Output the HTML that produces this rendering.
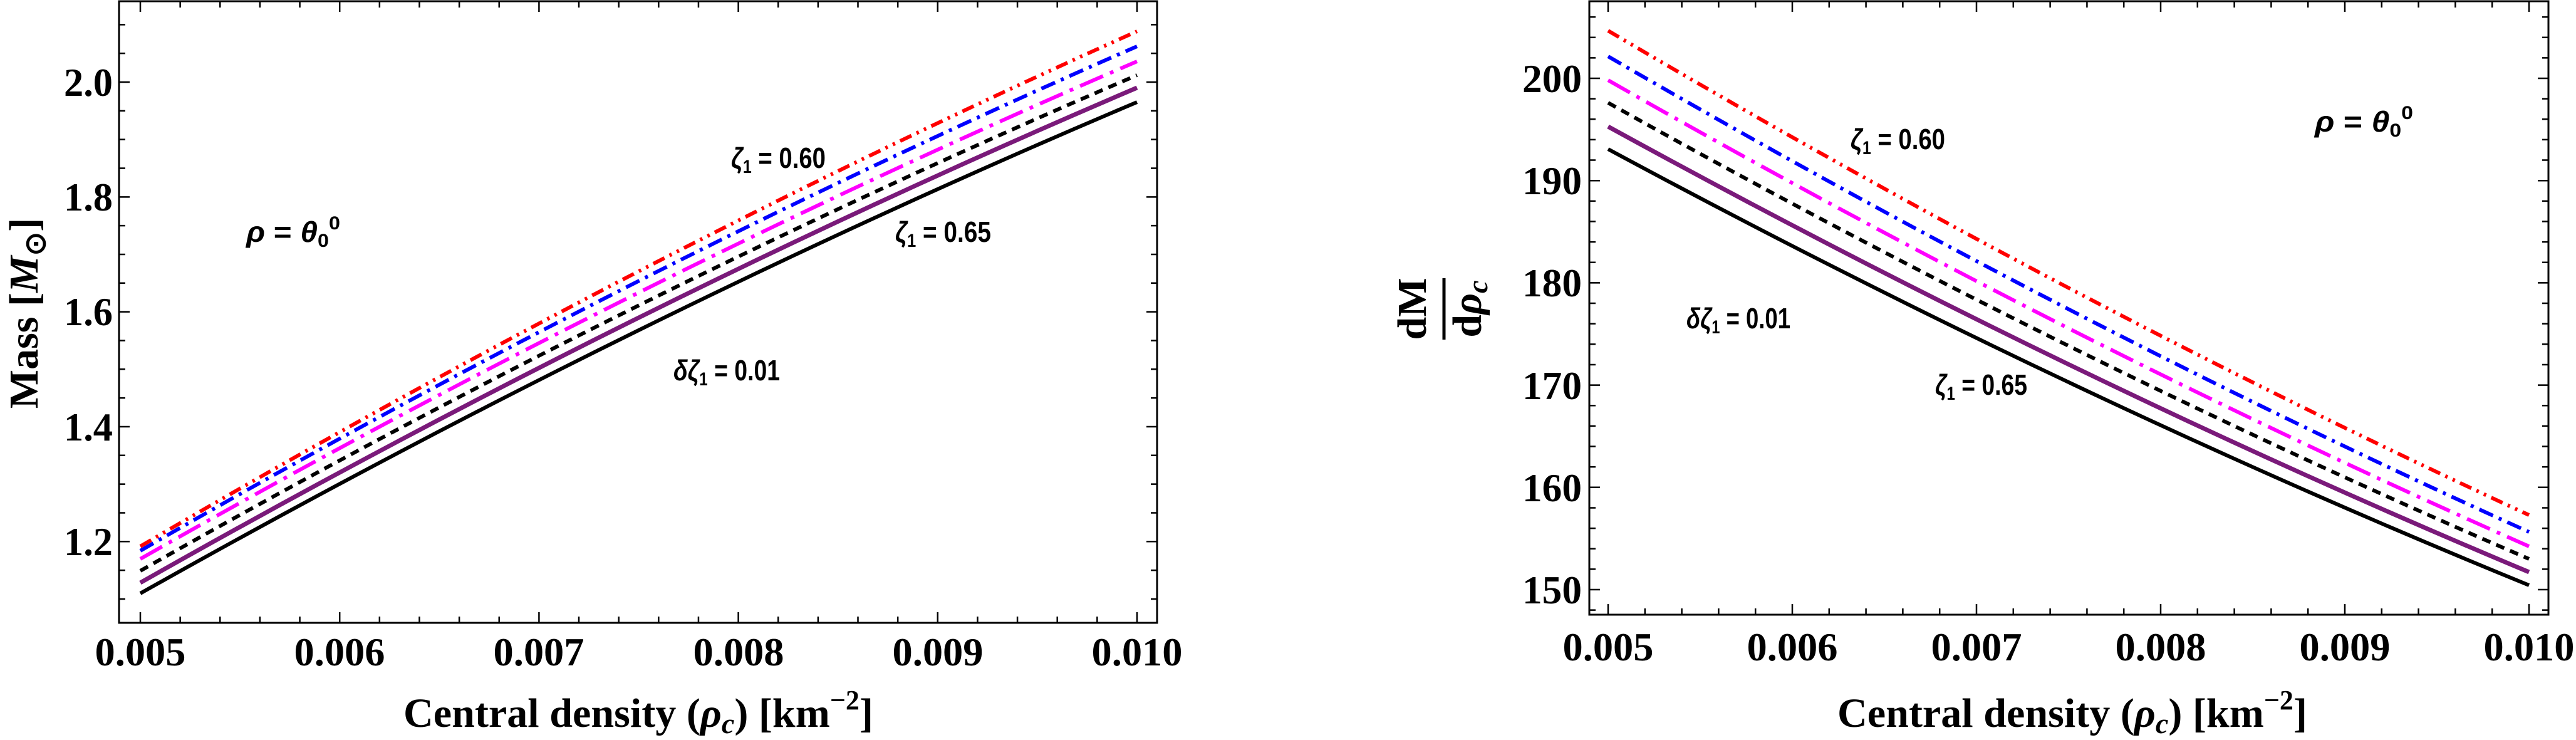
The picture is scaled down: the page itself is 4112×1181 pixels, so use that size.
<!DOCTYPE html>
<html><head><meta charset="utf-8"><style>
html,body{margin:0;padding:0;background:#fff}
svg{display:block}
.tk{font-family:"Liberation Serif",serif;font-weight:bold;font-size:64px}
.ax{font-family:"Liberation Serif",serif;font-weight:bold;font-size:66px}
.an{font-family:"Liberation Sans",sans-serif;font-weight:bold;font-size:46px}
.gi{font-style:italic}
</style></head><body>
<svg id="s" width="4112" height="1181" viewBox="0 0 4112 1181" xmlns="http://www.w3.org/2000/svg">
<rect width="4112" height="1181" fill="#fff"/>
<rect x="190" y="2" width="1657" height="992" fill="none" stroke="#000" stroke-width="3"/>
<rect x="2537" y="2" width="1531" height="979" fill="none" stroke="#000" stroke-width="3"/>
<g id="ticks" stroke="#000" stroke-width="2.5" fill="none"></g>

<g fill="none" stroke-width="6">
<path d="M224,947 Q1019.5,499 1815,163" stroke="#000"/>
<path d="M224,930 Q1019.5,479 1815,140" stroke="#7a1a7a" stroke-width="7"/>
<path d="M224,911 Q1019.5,459.5 1815,120" stroke="#000" stroke-dasharray="14 10"/>
<path d="M224,892 Q1019.5,439 1815,98" stroke="#ff00ff" stroke-dasharray="40 12 6 12"/>
<path d="M224,879 Q1019.5,420.5 1815,74" stroke="#0000ff" stroke-dasharray="24 10 5 10"/>
<path d="M224,872 Q1019.5,405 1815,50" stroke="#ff0000" stroke-dasharray="20 9 4 9 4 9"/>
</g>
<g fill="none" stroke-width="6">
<path d="M2567,238 Q3302,634 4037,934" stroke="#000"/>
<path d="M2567,202 Q3302,605.5 4037,913" stroke="#7a1a7a" stroke-width="7"/>
<path d="M2567,164 Q3302,576 4037,892" stroke="#000" stroke-dasharray="14 10"/>
<path d="M2567,128 Q3302,548 4037,872" stroke="#ff00ff" stroke-dasharray="40 12 6 12"/>
<path d="M2567,90 Q3302,517.5 4037,849" stroke="#0000ff" stroke-dasharray="24 10 5 10"/>
<path d="M2567,49 Q3302,483.5 4037,822" stroke="#ff0000" stroke-dasharray="20 9 4 9 4 9"/>
</g>

<g class="tk" text-anchor="middle">
<text x="224" y="1062" textLength="145" lengthAdjust="spacingAndGlyphs">0.005</text>
<text x="542" y="1062" textLength="145" lengthAdjust="spacingAndGlyphs">0.006</text>
<text x="860" y="1062" textLength="145" lengthAdjust="spacingAndGlyphs">0.007</text>
<text x="1179" y="1062" textLength="145" lengthAdjust="spacingAndGlyphs">0.008</text>
<text x="1497" y="1062" textLength="145" lengthAdjust="spacingAndGlyphs">0.009</text>
<text x="1815" y="1062" textLength="145" lengthAdjust="spacingAndGlyphs">0.010</text>
</g>
<g class="tk" text-anchor="end">
<text x="180" y="153" textLength="78" lengthAdjust="spacingAndGlyphs">2.0</text>
<text x="180" y="336" textLength="78" lengthAdjust="spacingAndGlyphs">1.8</text>
<text x="180" y="519" textLength="78" lengthAdjust="spacingAndGlyphs">1.6</text>
<text x="180" y="703" textLength="78" lengthAdjust="spacingAndGlyphs">1.4</text>
<text x="180" y="886" textLength="78" lengthAdjust="spacingAndGlyphs">1.2</text>
</g>
<text class="ax" transform="translate(60,500) rotate(-90)" text-anchor="middle">Mass [<tspan font-style="italic">M</tspan><tspan font-size="46" dy="12">⊙</tspan><tspan dy="-12">]</tspan></text>
<text class="ax" x="1019" y="1160" text-anchor="middle" textLength="750" lengthAdjust="spacingAndGlyphs">Central density (<tspan font-style="italic">ρ</tspan><tspan font-style="italic" font-size="46" dy="10">c</tspan><tspan dy="-10">) [km</tspan><tspan font-size="44" dy="-28">−2</tspan><tspan dy="28">]</tspan></text>

<g class="an">
<text x="1167" y="268" textLength="151" lengthAdjust="spacingAndGlyphs"><tspan class="gi">ζ</tspan><tspan font-size="30" dy="8">1</tspan><tspan dy="-8"> = 0.60</tspan></text>
<text x="393" y="386" textLength="150" lengthAdjust="spacingAndGlyphs"><tspan class="gi">ρ</tspan> = <tspan class="gi">θ</tspan><tspan font-size="30" dy="8">0</tspan><tspan font-size="30" dy="-28">0</tspan></text>
<text x="1429" y="386" textLength="153" lengthAdjust="spacingAndGlyphs"><tspan class="gi">ζ</tspan><tspan font-size="30" dy="8">1</tspan><tspan dy="-8"> = 0.65</tspan></text>
<text x="1075" y="607" textLength="170" lengthAdjust="spacingAndGlyphs"><tspan class="gi">δζ</tspan><tspan font-size="30" dy="8">1</tspan><tspan dy="-8"> = 0.01</tspan></text>
</g>

<g class="tk" text-anchor="middle">
<text x="2567" y="1054" textLength="145" lengthAdjust="spacingAndGlyphs">0.005</text>
<text x="2861" y="1054" textLength="145" lengthAdjust="spacingAndGlyphs">0.006</text>
<text x="3155" y="1054" textLength="145" lengthAdjust="spacingAndGlyphs">0.007</text>
<text x="3449" y="1054" textLength="145" lengthAdjust="spacingAndGlyphs">0.008</text>
<text x="3743" y="1054" textLength="145" lengthAdjust="spacingAndGlyphs">0.009</text>
<text x="4037" y="1054" textLength="145" lengthAdjust="spacingAndGlyphs">0.010</text>
</g>
<g class="tk" text-anchor="end">
<text x="2525" y="147" textLength="95" lengthAdjust="spacingAndGlyphs">200</text>
<text x="2525" y="310" textLength="95" lengthAdjust="spacingAndGlyphs">190</text>
<text x="2525" y="473" textLength="95" lengthAdjust="spacingAndGlyphs">180</text>
<text x="2525" y="637" textLength="95" lengthAdjust="spacingAndGlyphs">170</text>
<text x="2525" y="800" textLength="95" lengthAdjust="spacingAndGlyphs">160</text>
<text x="2525" y="963" textLength="95" lengthAdjust="spacingAndGlyphs">150</text>
</g>
<g class="ax">
<text transform="translate(2276,493) rotate(-90)" text-anchor="middle">dM</text>
<line x1="2305" y1="444" x2="2305" y2="542" stroke="#000" stroke-width="5"/>
<text transform="translate(2364,493) rotate(-90)" text-anchor="middle">d<tspan font-style="italic">ρ</tspan><tspan font-style="italic" font-size="46" dy="10">c</tspan></text>
</g>
<text class="ax" x="3308" y="1160" text-anchor="middle" textLength="750" lengthAdjust="spacingAndGlyphs">Central density (<tspan font-style="italic">ρ</tspan><tspan font-style="italic" font-size="46" dy="10">c</tspan><tspan dy="-10">) [km</tspan><tspan font-size="44" dy="-28">−2</tspan><tspan dy="28">]</tspan></text>

<g class="an">
<text x="2954" y="238" textLength="151" lengthAdjust="spacingAndGlyphs"><tspan class="gi">ζ</tspan><tspan font-size="30" dy="8">1</tspan><tspan dy="-8"> = 0.60</tspan></text>
<text x="3695" y="210" textLength="157" lengthAdjust="spacingAndGlyphs"><tspan class="gi">ρ</tspan> = <tspan class="gi">θ</tspan><tspan font-size="30" dy="8">0</tspan><tspan font-size="30" dy="-28">0</tspan></text>
<text x="2692" y="524" textLength="166" lengthAdjust="spacingAndGlyphs"><tspan class="gi">δζ</tspan><tspan font-size="30" dy="8">1</tspan><tspan dy="-8"> = 0.01</tspan></text>
<text x="3089" y="630" textLength="147" lengthAdjust="spacingAndGlyphs"><tspan class="gi">ζ</tspan><tspan font-size="30" dy="8">1</tspan><tspan dy="-8"> = 0.65</tspan></text>
</g>
</svg>
<script>
(function(){
var d="";
function panel(L,R,T,B,x0,x1,ys){
  for(var i=-2;i<=27;i++){
    var v=0.005+i*0.0002, px=x0+(v-0.005)/0.005*(x1-x0);
    if(px<=L+1||px>=R-1)continue;
    var len=(i%5==0)?17:10;
    d+="M"+px+","+B+"v"+(-len)+"M"+px+","+T+"v"+len;
  }
  ys.forEach(function(y){
    if(y[0]<=T+1||y[0]>=B-1)return;
    var len=y[1]?17:10;
    d+="M"+L+","+y[0]+"h"+len+"M"+R+","+y[0]+"h"+(-len);
  });
}
var ysL=[];for(var k=20;k<=44;k++){var m=k*0.05;var p=131+(2.0-m)*916.6;ysL.push([p,k%4==0]);}
panel(190,1847,2,994,224,1815,ysL);
var ysR=[];for(var v=146;v<=210;v+=2){var p=125+(200-v)*16.32;ysR.push([p,v%10==0]);}
panel(2537,4068,2,981,2567,4037,ysR);
var g=document.getElementById("ticks");
var pa=document.createElementNS("http://www.w3.org/2000/svg","path");pa.setAttribute("d",d);g.appendChild(pa);
})();
</script>
</body></html>
